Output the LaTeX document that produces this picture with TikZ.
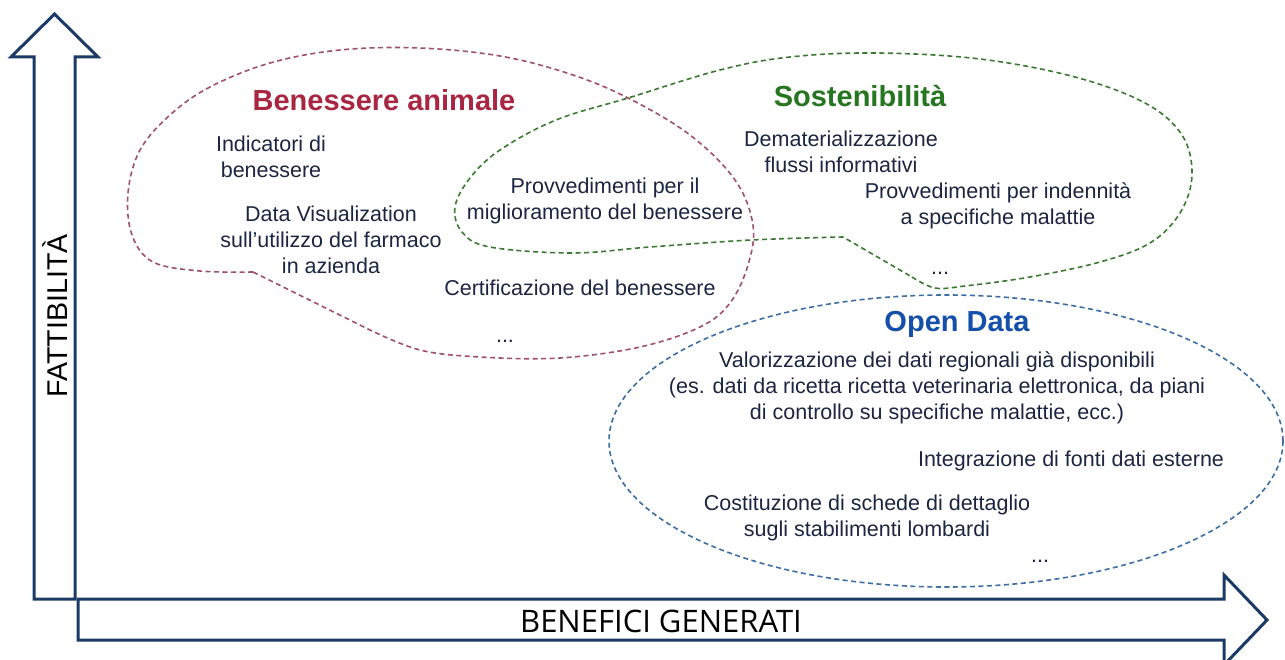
\documentclass[tikz,border=0pt]{standalone}
\usepackage{fontspec}
\setmainfont{Liberation Sans}
\newfontfamily\axisfont{Open Sans}
\definecolor{navy}{RGB}{27,58,102}
\definecolor{txt}{RGB}{28,37,65}
\definecolor{redT}{RGB}{168,38,66}
\definecolor{greenT}{RGB}{38,118,32}
\definecolor{blueT}{RGB}{20,80,170}
\definecolor{redD}{RGB}{160,80,106}
\definecolor{greenD}{RGB}{58,122,48}
\definecolor{blueD}{RGB}{58,110,165}
\begin{document}
\begin{tikzpicture}[x=1pt,y=-1pt,
  bigarrow/.style={draw=navy,line width=3pt,fill=white,line join=miter},
  blob/.style={dash pattern=on 5pt off 3.5pt,line width=1.6pt},
  item/.style={text=txt,align=center,inner sep=0pt,font=\fontsize{21.5}{26}\selectfont},
  ttl/.style={inner sep=0pt,font=\fontsize{29}{34}\selectfont\bfseries},
  dots/.style={text=txt,inner sep=0pt,anchor=base,font=\fontsize{21.5}{26}\selectfont}]
\useasboundingbox (0,0) rectangle (1285,660);
% axes
\draw[bigarrow] (78,599) -- (1224,599) -- (1224,575) -- (1267,620) -- (1224,665) -- (1224,640) -- (78,640) -- cycle;
\draw[bigarrow] (34,599) -- (34,57) -- (11,57) -- (54.5,14) -- (98,57) -- (75,57) -- (75,599) -- cycle;
\node[rotate=90,inner sep=0pt,font=\fontsize{28.6}{32}\selectfont] (ylab) at (55,316) {FATTIBILITÀ};
\node[inner sep=0pt,font=\axisfont\fontsize{31}{36}\selectfont] (xlab) at (661,621) {BENEFICI GENERATI};
% red blob
\draw[blob,draw=redD] plot[smooth,tension=0.6] coordinates {(253,272) (200,271) (153,262) (132,235) (128,193) (140,150) (170,115) (210,87) (270,63) (340,50) (419,48) (500,56) (570,74) (628,98) (690,135) (735,180) (753,225) (748,265) (730,303) (700,327) (640,347) (560,358) (480,357) (420,350) (370,330)} -- cycle;
% green blob
\draw[blob,draw=greenD] plot[smooth,tension=0.6] coordinates {(912,277) (935,288) (965,286) (1030,277) (1100,262) (1150,243) (1180,213) (1192,175) (1182,135) (1145,103) (1075,77) (980,59) (877,53) (790,57) (720,70) (628,98) (556,120) (500,150) (470,178) (455,207) (462,232) (490,247) (572,253) (650,247) (751,240) (843,237)} -- cycle;
% blue ellipse
\draw[blob,draw=blueD] (946,441) ellipse [x radius=337,y radius=146];
% titles
\node[ttl,text=redT] (t1) at (384,100) {Benessere animale};
\node[ttl,text=greenT] (t2) at (860,96) {Sostenibilità};
\node[ttl,text=blueT] (t3) at (957,324) {Open Data};
% items
\node[item] (ind) at (271,157) {Indicatori di\\benessere};
\node[item] (dv) at (331,240) {Data Visualization\\sull’utilizzo del farmaco\\in azienda};
\node[item] (prov) at (605,201) {Provvedimenti per il\\miglioramento del benessere};
\node[item] (cert) at (580,288) {Certificazione del benessere};
\node[dots] (d1) at (505,342) {...};
\node[item] (demat) at (841,152) {Dematerializzazione\\flussi informativi};
\node[item] (provind) at (998,206) {Provvedimenti per indennità\\a specifiche malattie};
\node[dots] (d2) at (940,275) {...};
\node[item] (valor) at (937,388) {Valorizzazione dei dati regionali già disponibili\\(es. dati da ricetta ricetta veterinaria elettronica, da piani\\di controllo su specifiche malattie, ecc.)};
\node[item] (integr) at (1071,461) {Integrazione di fonti dati esterne};
\node[item] (cost) at (867,518) {Costituzione di schede di dettaglio\\sugli stabilimenti lombardi};
\node[dots] (d3) at (1040,562) {...};
\end{tikzpicture}
\end{document}
